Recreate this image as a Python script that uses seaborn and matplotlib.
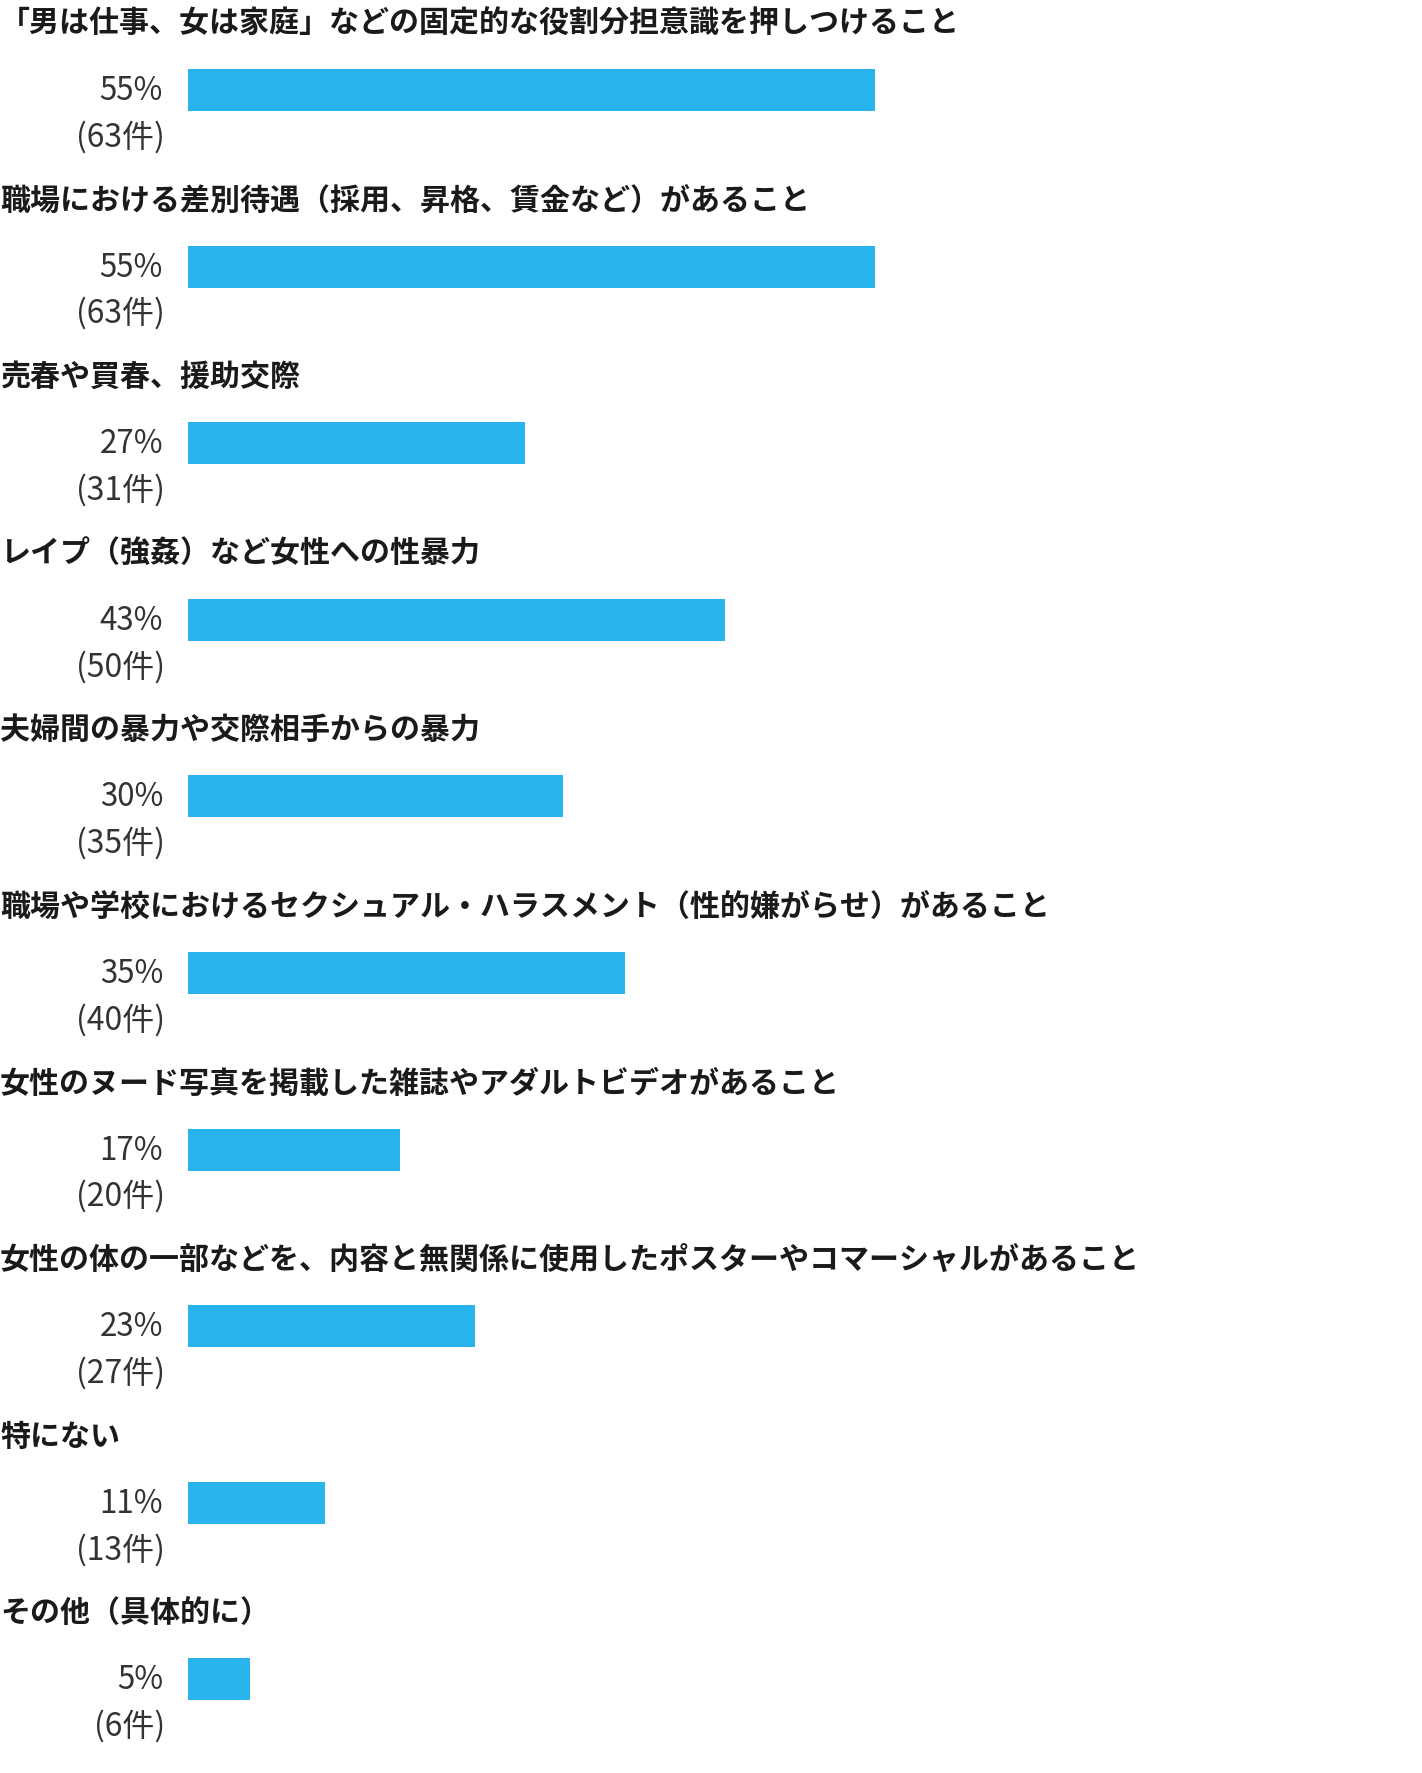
import matplotlib
matplotlib.use("Agg")
import matplotlib.pyplot as plt
import seaborn as sns
import pandas as pd

# datos de la encuesta
titulos = [
    "「男は仕事、女は家庭」などの固定的な役割分担意識を押しつけること",
    "職場における差別待遇（採用、昇格、賃金など）があること",
    "売春や買春、援助交際",
    "レイプ（強姦）など女性への性暴力",
    "夫婦間の暴力や交際相手からの暴力",
    "職場や学校におけるセクシュアル・ハラスメント（性的嫌がらせ）があること",
    "女性のヌード写真を掲載した雑誌やアダルトビデオがあること",
    "女性の体の一部などを、内容と無関係に使用したポスターやコマーシャルがあること",
    "特にない",
    "その他（具体的に）",
]
porcentajes = [55, 55, 27, 43, 30, 35, 17, 23, 11, 5]
casos = [63, 63, 31, 50, 35, 40, 20, 27, 13, 6]

df = pd.DataFrame({"titulo": titulos, "pct": porcentajes, "n": casos})

sns.set_theme(style="white")
plt.rcParams['font.family'] = ['Noto Sans CJK JP', 'DejaVu Sans']

W, H, DPI = 1422, 1774, 100
fig = plt.figure(figsize=(W / DPI, H / DPI), dpi=DPI)

izq_px = 188          # inicio de las barras
px_por_pct = 12.49
paso_px = 176.6       # separación entre grupos
centro0_px = 91       # centro de la primera barra

ax = fig.add_axes([izq_px / W, 0, 1 - izq_px / W, 1])

sns.barplot(
    data=df, x="pct", y="titulo", orient="h",
    color="#2AB4EE", width=42 / paso_px, saturation=1,
    ax=ax,
)
for p in ax.patches:
    p.set_edgecolor("none")

ax.set_xlim(0, (W - izq_px) / px_por_pct)
ax.set_ylim((H - centro0_px) / paso_px, -centro0_px / paso_px)
ax.axis("off")

x_titulo = -izq_px / px_por_pct
for i, fila in df.iterrows():
    ax.text(x_titulo, i - 67 / paso_px, fila["titulo"], ha="left", va="center",
            fontsize=21.6, fontweight="bold", color="#1a1a1a", clip_on=False)
    ax.text(-25 / px_por_pct, i, f"{fila['pct']}%", ha="right", va="center",
            fontsize=22.5, color="#333333", clip_on=False)
    ax.text(-23 / px_por_pct, i + 46 / paso_px, f"({fila['n']}件)", ha="right", va="center",
            fontsize=23, color="#333333", clip_on=False)

plt.savefig("out.png", dpi=DPI)
plt.close()
